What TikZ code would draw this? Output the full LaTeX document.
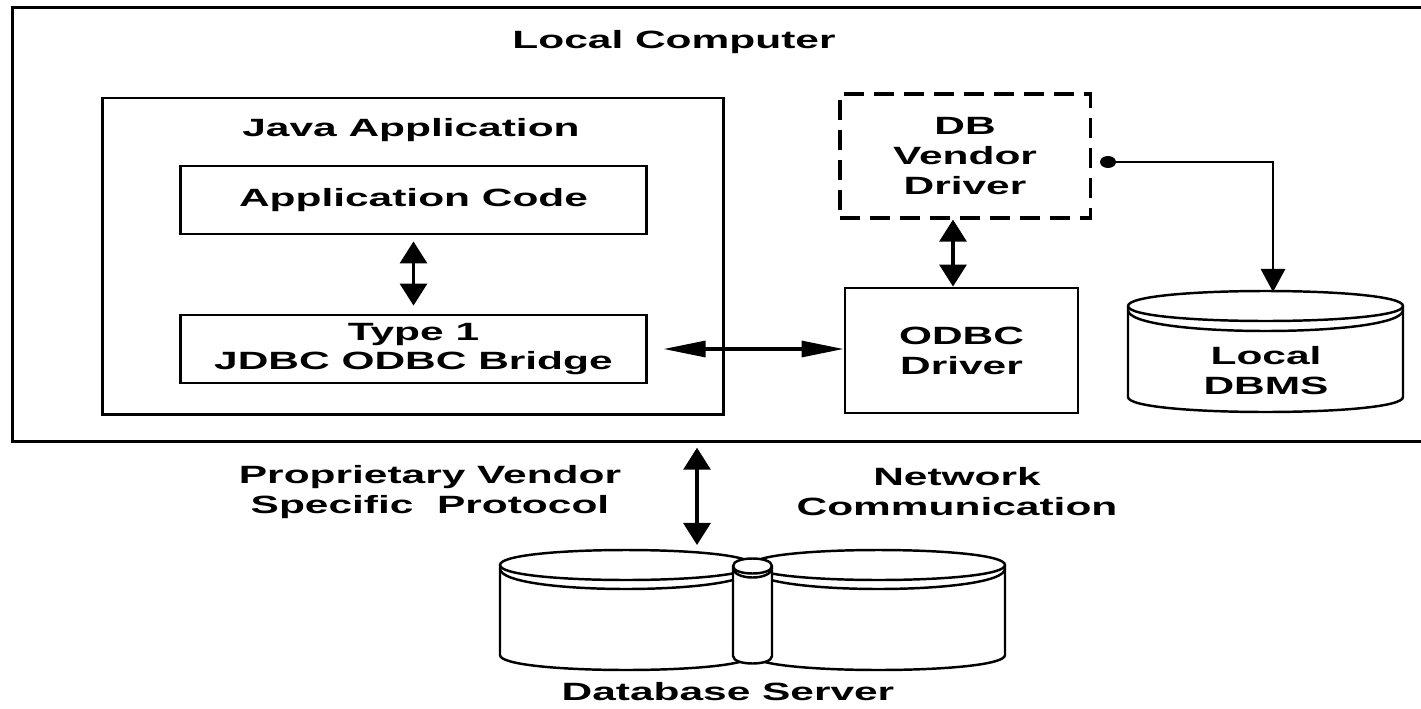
\documentclass[tikz,border=0pt]{standalone}
\usepackage{fontspec}
\setmainfont{Liberation Sans}[FakeStretch=1.7]
\usetikzlibrary{arrows.meta}
\newcommand{\drawcyl}[6]{% #1 x0, #2 x1, #3 top y, #4 bottom y, #5 ry, #6 rim drop
  \filldraw[fill=white, line width=0.7pt] (#1,#3) -- (#1,#4)
    .. controls (#1,{#4+1.333*#5}) and (#2,{#4+1.333*#5}) .. (#2,#4) -- (#2,#3)
    .. controls (#2,{#3-1.333*#5}) and (#1,{#3-1.333*#5}) .. cycle;
  \draw[line width=0.7pt] (#1,#3) .. controls (#1,{#3+1.333*#5}) and (#2,{#3+1.333*#5}) .. (#2,#3);
  \draw[line width=0.7pt] (#1,{#3+0.4*#6})
    .. controls (#1,{#3+0.4*#6+1.333*(#5+0.6*#6)}) and (#2,{#3+0.4*#6+1.333*(#5+0.6*#6)}) .. (#2,{#3+0.4*#6});
}
\begin{document}
\begin{tikzpicture}[x=0.01cm, y=-0.01cm,
  font=\fontsize{7.1}{8.5}\selectfont\bfseries,
  box/.style={draw, line width=0.8pt, inner sep=0pt, align=center},
  dbox/.style={box, line width=0.9pt, dash pattern=on 0.2cm off 0.1cm},
  lbl/.style={inner sep=0pt, align=center},
  vtip/.tip={Triangle[length=0.22cm, width=0.27cm]},
  htip/.tip={Triangle[length=0.42cm, width=0.16cm]},
  varr/.style={line width=0.9pt, vtip-vtip},
  harr/.style={line width=0.9pt, htip-htip}]
\useasboundingbox (0,0) rectangle (1421,709);
\fill[white] (0,0) rectangle (1421,709);

% Local computer
\node[box, line width=0.9pt, minimum width=14.15cm, minimum height=4.33cm] (lc) at (720.5,224.5) {};
\node[lbl] (lctitle) at (674,42) {Local Computer};

% Java application
\node[box, minimum width=6.2cm, minimum height=3.16cm] (java) at (413,256) {};
\node[lbl] (javatitle) at (411,130) {Java Application};
\node[box, minimum width=4.65cm, minimum height=0.68cm] (app) at (413.5,200) {Application Code};
\node[box, minimum width=4.65cm, minimum height=0.68cm] (type1) at (413.5,349) {Type 1\\JDBC ODBC Bridge};

% drivers
\node[dbox, minimum width=2.5cm, minimum height=1.24cm] (dbv) at (965,156) {DB\\Vendor\\Driver};
\node[box, minimum width=2.33cm, minimum height=1.25cm] (odbc) at (961.5,350.5) {ODBC\\Driver};

% Local DBMS
\drawcyl{1128}{1403}{306}{397}{15}{10}
\node[lbl] (ldbms) at (1266,371) {Local\\DBMS};
\coordinate (dbmstop) at (1273,292);
\coordinate (dot) at (1108,162);

% Database server
\drawcyl{500}{752}{565}{655}{15}{9}
\drawcyl{752}{1005}{565}{655}{15}{9}
\drawcyl{733}{772}{566}{656}{7.5}{4}
\node[lbl] (dbs) at (728,692) {Database Server};
\coordinate (srvtop) at (697,545);

% labels
\node[lbl] (proto) at (430,492) {Proprietary Vendor\\Specific\ \ Protocol};
\node[lbl] (net) at (957,492) {Network\\Communication};

% connectors
\draw[varr, shorten <=0.06cm, shorten >=0.08cm] (app.south) -- (type1.north);
\draw[harr, shorten <=0.16cm] (type1.east) -- (type1.east -| odbc.west);
\draw[varr] (dbv.south -| 953,0) -- (odbc.north -| 953,0);
\fill (dot) ellipse [x radius=0.08cm, y radius=0.06cm];
\draw[line width=0.8pt, -{Triangle[length=0.23cm, width=0.24cm]}] (dot) -| (dbmstop);
\draw[varr, shorten <=0.05cm] (lc.south -| 697,0) -- (srvtop);
\end{tikzpicture}
\end{document}
